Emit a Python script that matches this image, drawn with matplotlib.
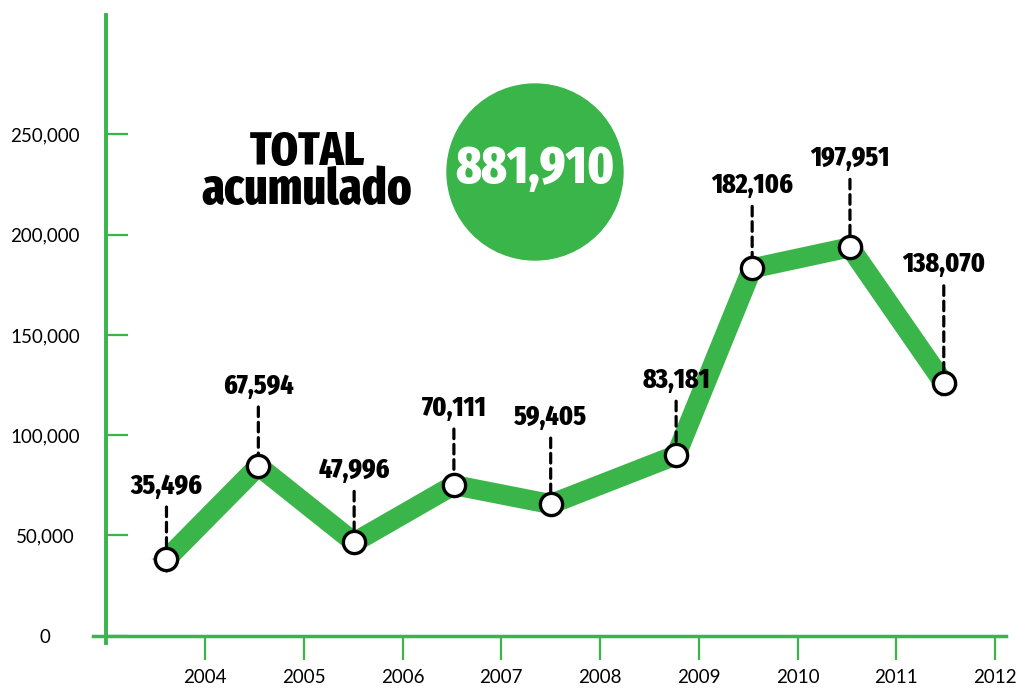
import matplotlib.pyplot as plt
from matplotlib.patches import Circle

GREEN = '#3AB54A'
LABEL_FONT = ['Fira Sans Extra Condensed', 'DejaVu Sans']
TICK_FONT = ['Lato', 'DejaVu Sans']

# plotted positions (year position, value) and printed labels
years_pos = [2003.61, 2004.54, 2005.51, 2006.52, 2007.50, 2008.77, 2009.54, 2010.53, 2011.48]
values = [38200, 84600, 46500, 75100, 65600, 90000, 183200, 193700, 126100]
value_labels = ['35,496', '67,594', '47,996', '70,111', '59,405', '83,181', '182,106', '197,951', '138,070']
year_ticks = [2004, 2005, 2006, 2007, 2008, 2009, 2010, 2011, 2012]
y_ticks = [0, 50000, 100000, 150000, 200000, 250000]
total = '881,910'

# how far above each point its label sits (pixels)
label_offsets = [73, 80, 72, 77, 87, 75, 83, 89, 118]


def main():
    fig = plt.figure(figsize=(10.16, 6.89), dpi=100)
    ax = fig.add_axes([93 / 1016, 46 / 689, 913 / 1016, 628 / 689])

    ax.plot(years_pos, values, color=GREEN, lw=14.5, solid_joinstyle='miter', zorder=2)
    ax.plot(years_pos, values, 'o', ms=16, mfc='white', mec='black', mew=2.4, zorder=4)

    for x, y, lab, off in zip(years_pos, values, value_labels, label_offsets):
        ax.annotate('', xy=(x, y), xytext=(0, off - 21), textcoords='offset pixels',
                    arrowprops=dict(arrowstyle='-', lw=2.3, ls=(0, (3, 1.8)), color='black',
                                    shrinkA=0, shrinkB=8), zorder=3)
        ax.annotate(lab, xy=(x, y), xytext=(0, off), textcoords='offset pixels',
                    ha='center', va='center', fontsize=20, fontweight=800,
                    family=LABEL_FONT, color='black')

    ax.set_xlim(2002.866, 2012.11)
    ax.set_ylim(-3700, 309600)

    ax.spines['top'].set_visible(False)
    ax.spines['right'].set_visible(False)
    ax.spines['left'].set_position(('data', 2003))
    ax.spines['bottom'].set_position(('data', 0))
    ax.spines['left'].set_color(GREEN)
    ax.spines['bottom'].set_color(GREEN)
    ax.spines['left'].set_linewidth(2.8)
    ax.spines['bottom'].set_linewidth(2.5)

    ax.set_xticks(year_ticks)
    ax.set_xticklabels([str(y) for y in year_ticks])
    ax.set_yticks(y_ticks)
    ax.set_yticklabels(['{:,}'.format(v) for v in y_ticks])
    ax.tick_params(axis='x', direction='out', length=17, width=1.6, color=GREEN,
                   pad=7, labelsize=13.5)
    ax.tick_params(axis='y', direction='in', length=16, width=1.6, color=GREEN,
                   pad=44, labelsize=13.5)
    for t in ax.get_yticklabels():
        t.set_horizontalalignment('center')
    for t in ax.get_xticklabels() + ax.get_yticklabels():
        t.set_family(TICK_FONT)

    # total badge
    fig.add_artist(Circle((5.35, 5.17), 0.88, transform=fig.dpi_scale_trans,
                          color=GREEN, zorder=1))
    fig.text(535 / 1016, 1 - 169 / 689, total, ha='center', va='center', color='white',
             fontsize=38, fontweight=800, family=LABEL_FONT)
    fig.text(307 / 1016, 1 - 153 / 689, 'TOTAL', ha='center', va='center', color='black',
             fontsize=34, fontweight=800, family=LABEL_FONT)
    fig.text(307 / 1016, 1 - 191 / 689, 'acumulado', ha='center', va='center', color='black',
             fontsize=36, fontweight=800, family=LABEL_FONT)

    fig.savefig('out.png', dpi=100)


if __name__ == '__main__':
    main()
